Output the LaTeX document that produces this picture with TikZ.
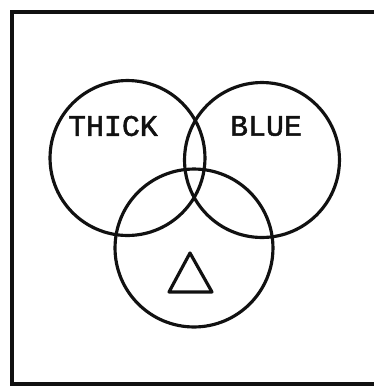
\documentclass[tikz,border=0pt]{standalone}
\usepackage{fontspec}
\newfontfamily\slabfont[FakeBold=1.6]{Liberation Mono}
\usetikzlibrary{calc}
\definecolor{Paper}{HTML}{FFFFFF}
\definecolor{Ink}{HTML}{111111}
\begin{document}
\begin{tikzpicture}[x=0.02cm,y=-0.02cm,line width=1.8pt,every node/.style={font=\slabfont\fontsize{17}{17}\selectfont,text=Ink},setc/.style={circle,draw=Ink,minimum size=#1*0.04cm,inner sep=0pt}]
\fill[Paper] (0,0) rectangle (374,387);\useasboundingbox (0,0) rectangle (374,387);
\draw[Ink] (374,12)--(12,12)--(12,384)--(374,384);
\node[setc=77.5] (thickset) at (127.5,158){};\node[setc=77.5] (blueset) at (262,160){};\node[setc=79] (triset) at (194,248){};
\node (thick) at (113,126){THICK};\node (blue) at (266,126){BLUE};
\coordinate(Ta)at(190,253);\coordinate(Tl)at(169,292);\coordinate(Tr)at(212,292);
\draw[Ink,line join=round](Ta)--(Tl)--(Tr)--cycle;
\end{tikzpicture}
\end{document}
